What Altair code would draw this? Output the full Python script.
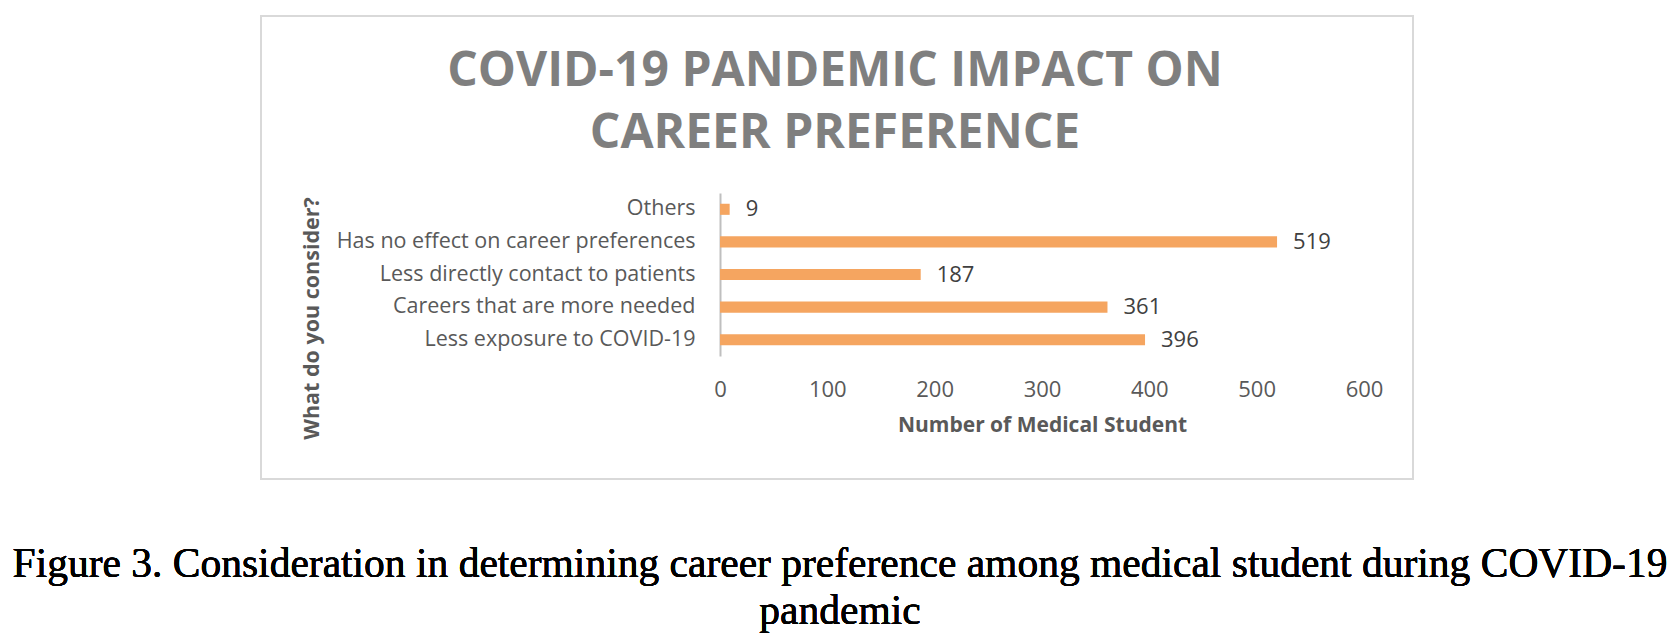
import altair as alt
import pandas as pd

categories = [
    "Others",
    "Has no effect on career preferences",
    "Less directly contact to patients",
    "Careers that are more needed",
    "Less exposure to COVID-19",
]
counts = [9, 519, 187, 361, 396]
x_ticks = [0, 100, 200, 300, 400, 500, 600]

title_lines = ["COVID-19 PANDEMIC IMPACT ON", "CAREER PREFERENCE"]
caption_lines = [
    "Figure 3. Consideration in determining career preference among medical student during COVID-19",
    "pandemic",
]

df = pd.DataFrame({"category": categories, "count": counts})

W, H = 644, 163
FONT = "Open Sans"

x_enc = alt.X(
    "count:Q",
    scale=alt.Scale(domain=[0, 600], nice=False),
    axis=alt.Axis(
        values=x_ticks,
        title="Number of Medical Student",
        grid=False,
        domain=False,
        ticks=False,
        labelFlush=False,
        labelPadding=23,
        labelFont=FONT,
        labelFontSize=22,
        labelColor="#595959",
        titleFont=FONT,
        titleFontSize=21,
        titleFontWeight="bold",
        titleColor="#595959",
        titlePadding=14,
    ),
)
y_enc = alt.Y(
    "category:N",
    sort=categories,
    scale=alt.Scale(paddingInner=0.66, paddingOuter=0.33),
    axis=alt.Axis(
        title="What do you consider?",
        domain=True,
        domainColor="#BFBFBF",
        domainWidth=2,
        ticks=False,
        labelPadding=25,
        labelLimit=0,
        labelFont=FONT,
        labelFontSize=21.5,
        labelColor="#595959",
        titleFont=FONT,
        titleFontSize=21.5,
        titleFontWeight="bold",
        titleColor="#595959",
        titleX=-408,
        titleY=125,
        titleAngle=-90,
        titleBaseline="middle",
        titleAlign="center",
    ),
)

bars = alt.Chart(df).mark_bar(color="#F5A560").encode(x=x_enc, y=y_enc)

labels = alt.Chart(df).mark_text(
    align="left", baseline="middle", dx=16, font=FONT, fontSize=22, color="#404040"
).encode(x="count:Q", y=alt.Y("category:N", sort=categories), text="count:Q")

border = alt.Chart(df).mark_rect(
    fill="transparent", stroke="#D9D9D9", strokeWidth=2
).encode(
    x=alt.value(-459), x2=alt.value(693), y=alt.value(-177), y2=alt.value(286)
)

caption = alt.Chart(df).mark_text(
    align="center",
    baseline="middle",
    font="Liberation Serif",
    fontSize=41.5,
    lineHeight=47,
    color="#000000",
).encode(x=alt.value(120), y=alt.value(372), text=alt.value(caption_lines))

chart = (
    alt.layer(border, bars, labels, caption)
    .properties(
        width=W,
        height=H,
        background="white",
        title=alt.TitleParams(
            text=title_lines,
            font=FONT,
            fontSize=48,
            fontWeight="bold",
            color="#7F7F7F",
            lineHeight=62,
            anchor="middle",
            dx=-207,
            offset=-143,
        ),
        autosize=alt.AutoSizeParams(type="none"),
        padding={"left": 712, "top": 185, "right": 307, "bottom": 278},
    )
    .configure_view(stroke="transparent", strokeWidth=0)
)

chart.save("out.html", embed_options={"renderer": "svg", "actions": False})
